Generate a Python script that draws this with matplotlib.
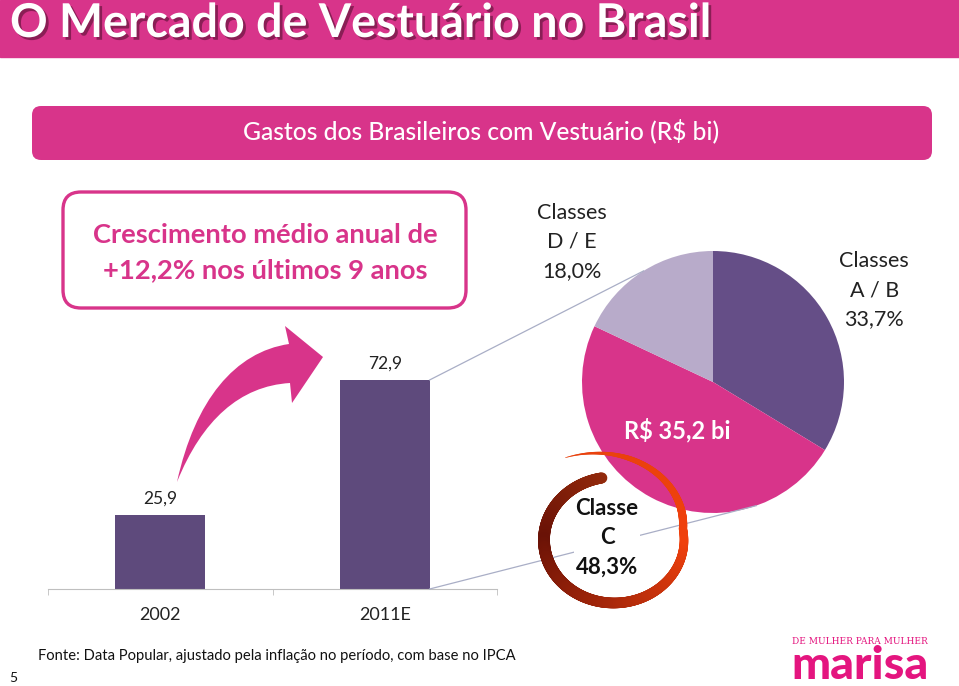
import numpy as np
import matplotlib
matplotlib.use('Agg')
import matplotlib.pyplot as plt
import matplotlib.patheffects as pe
from matplotlib.patches import FancyBboxPatch, PathPatch, Rectangle
from matplotlib.path import Path
from matplotlib.collections import LineCollection
from matplotlib.colors import LinearSegmentedColormap

# data
years = ['2002', '2011E']
spend = [25.9, 72.9]
classes = ['Classes\nA / B', 'Classe\nC', 'Classes\nD / E']
shares = [33.7, 48.3, 18.0]
total_2011 = 35.2
growth = 12.2

W, H = 959, 686
PINK = '#D8348A'
BAR = '#5E4A7C'
PIE_COLORS = ['#654E87', '#D8348A', '#B8ABCA']
LINE = '#A9AEC6'


def br(v):
    return f'{v:.1f}'.replace('.', ',')


def fit(t, width_px):
    r = fig.canvas.get_renderer()
    w = t.get_window_extent(r).width
    t.set_fontsize(t.get_fontsize() * width_px / w)


plt.rcParams['font.family'] = ['Lato', 'DejaVu Sans']

fig = plt.figure(figsize=(W / 100, H / 100), dpi=100)

# bar chart
ax = fig.add_axes([48 / W, (H - 589) / H, (497 - 48) / W, (589 - 355) / H])
ax.bar(range(len(years)), spend, width=0.4, color=BAR)
for i, v in enumerate(spend):
    ax.annotate(br(v), (i, v), xytext=(0, 11.5), textcoords='offset points',
                ha='center', va='center', fontsize=12.5, color='#222222')
ax.set_xlim(-0.5, len(years) - 0.5)
ax.set_ylim(0, 81.6)
ax.set_xticks(range(len(years)), years, fontsize=13, color='#222222')
ax.set_xticks(np.arange(-0.5, len(years)), minor=True)
ax.tick_params(axis='x', which='major', length=0, pad=13)
ax.tick_params(axis='x', which='minor', length=4, color='#BFBFBF', direction='out')
ax.set_yticks([])
for s in ['top', 'left', 'right']:
    ax.spines[s].set_visible(False)
ax.spines['bottom'].set_color('#BFBFBF')
ax.patch.set_visible(False)

# pie
axp = fig.add_axes([(713 - 131) / W, (H - 382 - 131) / H, 262 / W, 262 / H])
axp.pie(shares, startangle=90, counterclock=False, colors=PIE_COLORS, radius=1,
        wedgeprops=dict(linewidth=0))
axp.set_xlim(-1, 1)
axp.set_ylim(-1, 1)
axp.text(-0.27, -0.37, 'R$ ' + br(total_2011) + ' bi', ha='center', va='center',
         color='white', fontweight='bold', fontsize=17)
axp.text(1.23, 0.70, classes[0] + '\n' + br(shares[0]) + '%', ha='center', va='center',
         fontsize=15.5, color='#222222', linespacing=1.55)
axp.text(-1.08, 1.07, classes[2] + '\n' + br(shares[2]) + '%', ha='center', va='center',
         fontsize=15.5, color='#222222', linespacing=1.55)

# overlay in pixel coordinates
ov = fig.add_axes([0, 0, 1, 1], zorder=10)
ov.set_xlim(0, W)
ov.set_ylim(H, 0)
ov.axis('off')

# header band
ov.add_patch(Rectangle((0, 0), W, 57, color=PINK, zorder=1))
t = ov.text(10, 23, 'O Mercado de Vestuário no Brasil', color='white', fontsize=30,
            fontweight='bold', va='center', ha='left', zorder=2,
            path_effects=[pe.withSimplePatchShadow(offset=(2, -2), shadow_rgbFace='#4a0d2a', alpha=0.55)])
fit(t, 700)

# subtitle box
ov.add_patch(FancyBboxPatch((32, 106), 900, 54, boxstyle='round,pad=0,rounding_size=9',
                            facecolor=PINK, edgecolor='none'))
t = ov.text(481, 131, 'Gastos dos Brasileiros com Vestuário (R$ bi)', color='white',
            fontsize=15, ha='center', va='center', fontweight='medium')
fit(t, 478)

# growth box
ov.add_patch(FancyBboxPatch((63, 192), 403, 116, boxstyle='round,pad=0,rounding_size=18',
                            facecolor='white', edgecolor=PINK, linewidth=2.4))
t1 = ov.text(265, 235, 'Crescimento médio anual de', color=PINK, fontsize=18,
             fontweight='bold', ha='center', va='center')
fit(t1, 346)
ov.text(265, 270, f'+{br(growth)}% nos últimos 9 anos', color=PINK, fontsize=t1.get_fontsize(),
        fontweight='bold', ha='center', va='center')

# curved arrow
verts = [(177, 482), (195, 400), (235, 352), (289, 344),
         (285, 326), (323, 357), (292, 403), (290, 383),
         (240, 386), (202, 420), (177, 482), (177, 482)]
codes = [Path.MOVETO, Path.CURVE4, Path.CURVE4, Path.CURVE4,
         Path.LINETO, Path.LINETO, Path.LINETO, Path.LINETO,
         Path.CURVE4, Path.CURVE4, Path.CURVE4, Path.CLOSEPOLY]
ov.add_patch(PathPatch(Path(verts, codes), facecolor=PINK, edgecolor='none'))


# connector lines from the 2011 bar to the pie
def to_px(axes, xy):
    x, y = axes.transData.transform(xy)
    return x, H - y


b_top = to_px(ax, (1 + 0.2, spend[1]))
b_bot = to_px(ax, (1 + 0.2, 0))
p_top = to_px(axp, (np.cos(np.radians(122)), np.sin(np.radians(122))))
p_bot = to_px(axp, (np.cos(np.radians(-70.7)), np.sin(np.radians(-70.7))))
ov.plot([b_top[0], p_top[0]], [b_top[1], p_top[1]], color=LINE, lw=0.9, zorder=1)
ov.plot([b_bot[0], p_bot[0]], [b_bot[1], p_bot[1]], color=LINE, lw=0.9, zorder=1)

# classe C label
t = ov.text(607, 538, classes[1] + '\n' + br(shares[1]) + '%', ha='center', va='center',
            fontsize=16, fontweight='bold', color='#111111', linespacing=1.5, zorder=3,
            bbox=dict(facecolor='white', edgecolor='none', pad=1))

# red swirl ring
th = np.linspace(100, 478, 700)
sc = np.where(th < 370, 1.0, 1 + 0.48 * (th - 370) / 108)
rx = 614 + 70 * sc * np.cos(np.radians(th))
ry = 540 - 63 * sc * np.sin(np.radians(th))
pts = np.column_stack([rx, ry]).reshape(-1, 1, 2)
segs = np.concatenate([pts[:-1], pts[1:]], axis=1)
widths = np.interp(th[:-1], [100, 200, 300, 380, 440, 478], [11, 12, 10, 8, 5, 0.5]) * 0.72
cmap = LinearSegmentedColormap.from_list('ring', [(0, '#932A0C'), (0.21, '#6A1206'),
                                                  (0.45, '#A8280A'), (0.69, '#F0400C'),
                                                  (1, '#E8420E')])
ring = LineCollection(segs, linewidths=widths, colors=cmap((th[:-1] - 100) / 378),
                      capstyle='round', zorder=4)
ov.add_collection(ring)

# footer
t = ov.text(38, 656, 'Fonte: Data Popular, ajustado pela inflação no período, com base no IPCA',
            fontsize=11, ha='left', va='center', color='#111111')
fit(t, 477)
ov.text(13, 678, '5', fontsize=10, ha='center', va='center', color='#111111')

# logo
t = ov.text(860, 641, 'DE MULHER PARA MULHER', fontsize=5.5, ha='center', va='center',
            color='#E4157F', family='DejaVu Serif')
fit(t, 135)
t = ov.text(860, 666, 'marisa', fontsize=26, ha='center', va='center',
            color='#E4157F', fontweight='black')
fit(t, 137)

fig.savefig('out.png', dpi=100)
